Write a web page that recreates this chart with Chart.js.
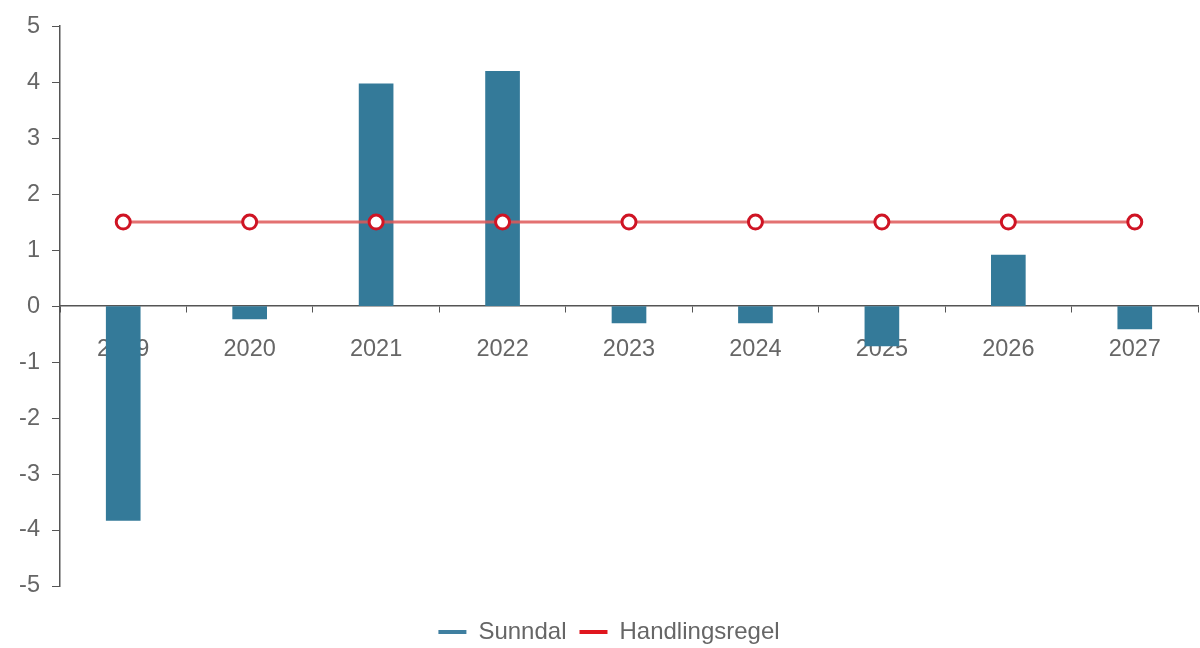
<!DOCTYPE html>
<html>
<head>
<meta charset="utf-8">
<script src="https://cdn.jsdelivr.net/npm/chart.js@4.4.0/dist/chart.umd.min.js"></script>
<style>
  html, body { margin: 0; padding: 0; background: #fff; }
  #wrap { width: 1200px; height: 648px; }
</style>
</head>
<body>
<div id="wrap"><canvas id="myChart"></canvas></div>
<script>
// data
const years = ['2019', '2020', '2021', '2022', '2023', '2024', '2025', '2026', '2027'];
const sunndal = [-3.83, -0.23, 3.97, 4.19, -0.30, -0.30, -0.71, 0.91, -0.41];
const handlingsregel = [1.5, 1.5, 1.5, 1.5, 1.5, 1.5, 1.5, 1.5, 1.5];
const yTicks = [-5, -4, -3, -2, -1, 0, 1, 2, 3, 4, 5];

const barColor = '#347a99';
const lineColor = 'rgba(222, 88, 88, 0.85)';
const pointColor = '#cf1424';
const textColor = '#666';

Chart.defaults.font.family = '"Liberation Sans", Arial, sans-serif';
Chart.defaults.font.size = 23.5;
Chart.defaults.color = textColor;

const data = {
        labels: years,
        datasets: [{
                type: 'line',
                label: 'Handlingsregel',
                data: handlingsregel,
                borderColor: lineColor,
                borderWidth: 3,
                pointRadius: 7,
                pointBorderWidth: 3,
                pointBorderColor: pointColor,
                pointBackgroundColor: '#fff',
                legendColor: '#e0161e',
                order: 0
        }, {
                type: 'bar',
                label: 'Sunndal',
                data: sunndal,
                backgroundColor: barColor,
                barThickness: 34,
                legendColor: '#3f7fa0',
                order: 1
        }]
};

const config = {
        data: data,
        options: {
                responsive: true,
                maintainAspectRatio: false,
                animation: false,
                layout: { autoPadding: false, padding: { top: 25, right: 2, bottom: -6, left: 20 } },
                plugins: {
                        tooltip: { enabled: false },
                        legend: {
                                position: 'bottom',
                                reverse: true,
                                title: { display: true, text: '', font: { size: 10 }, padding: { top: 9, bottom: 0 } },
                                labels: {
                                        usePointStyle: true,
                                        pointStyleWidth: 28,
                                        padding: 13,
                                        color: textColor,
                                        font: { size: 24 },
                                        generateLabels: chart => chart.data.datasets.map((ds, i) => ({
                                                text: ds.label,
                                                pointStyle: 'line',
                                                strokeStyle: ds.legendColor,
                                                fillStyle: ds.legendColor,
                                                lineWidth: 4,
                                                fontColor: textColor,
                                                hidden: false,
                                                datasetIndex: i
                                        }))
                                }
                        }
                },
                scales: {
                        x: {
                                position: { y: 0 },
                                offset: true,
                                grid: {
                                        offset: true,
                                        drawOnChartArea: false,
                                        drawTicks: true,
                                        tickLength: 6,
                                        color: '#555'
                                },
                                border: { color: '#555', width: 1.5 },
                                ticks: { padding: 23, color: textColor }
                        },
                        y: {
                                min: -5,
                                max: 5,
                                afterFit: axis => { axis.width = 40; },
                                afterBuildTicks: axis => { axis.ticks = yTicks.map(v => ({ value: v })); },
                                grid: {
                                        drawOnChartArea: false,
                                        tickLength: 8,
                                        color: '#555'
                                },
                                border: { color: '#555', width: 1.5 },
                                ticks: { padding: 12, color: textColor }
                        }
                }
        }
};

const myChart = new Chart(document.getElementById('myChart'), config);
</script>
</body>
</html>
